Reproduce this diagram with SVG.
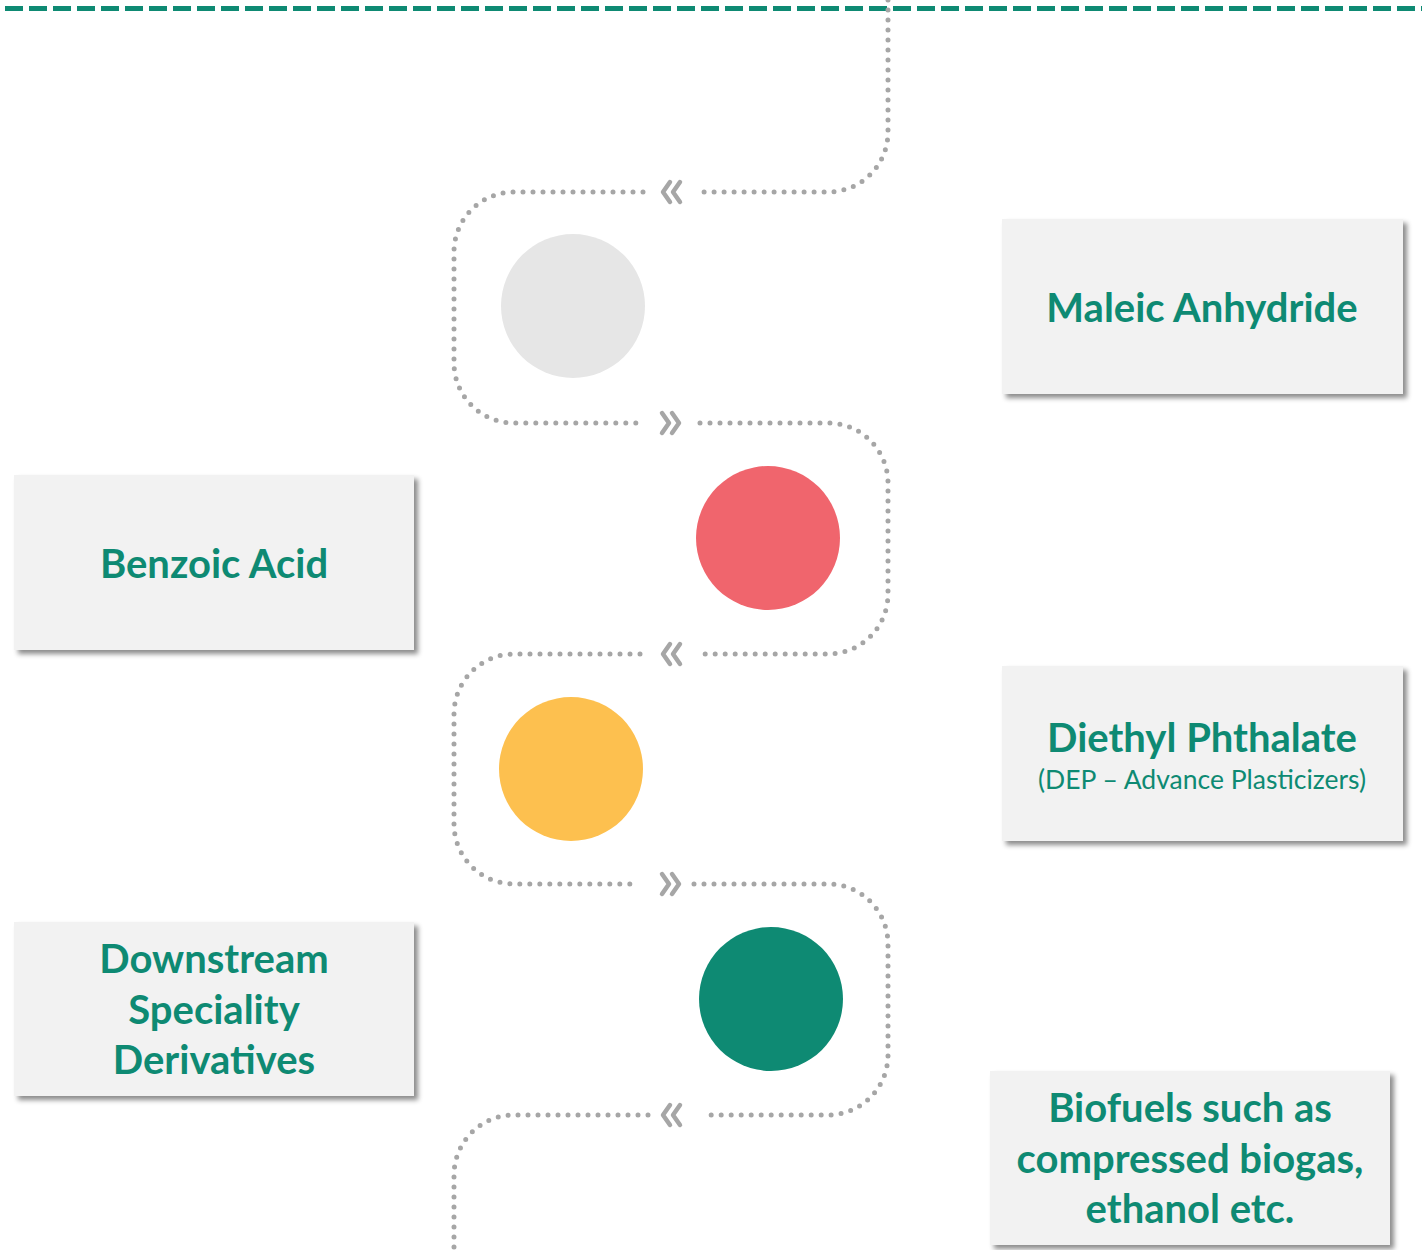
<svg xmlns="http://www.w3.org/2000/svg" width="1422" height="1250" viewBox="0 0 1422 1250">
<style>
.box{fill:#f2f2f2;filter:url(#sh)}
.t{font-family:Lato,"Open Sans","Liberation Sans",sans-serif;font-weight:700;fill:#0e8a73;text-anchor:middle;font-size:40px}
.s{font-family:Lato,"Open Sans","Liberation Sans",sans-serif;font-weight:400;fill:#0e8a73;text-anchor:middle;font-size:26.5px}
.dots{fill:none;stroke:#a6a6a6;stroke-width:5;stroke-linecap:round;stroke-dasharray:0 10}
.chev{fill:none;stroke:#a6a6a6;stroke-width:4.5;stroke-linecap:round;stroke-linejoin:round}
</style>
<defs>
<filter id="sh" x="-10%" y="-10%" width="130%" height="130%">
<feDropShadow dx="4" dy="4" stdDeviation="2.5" flood-color="#000" flood-opacity="0.45"/>
</filter>
</defs>
<rect width="1422" height="1250" fill="#fff"/>
<line x1="5" y1="8.5" x2="1422" y2="8.5" stroke="#0e8a73" stroke-width="5" stroke-dasharray="18 6"/>
<g id="connectors">
<path class="dots" d="M888,0 V132 A60,60 0 0 1 828,192 H700"/>
<path class="dots" d="M643,192 H514 A60,60 0 0 0 454,252 V363 A60,60 0 0 0 514,423 H643"/>
<path class="dots" d="M700,423 H828 A60,60 0 0 1 888,483 V594 A60,60 0 0 1 828,654 H697"/>
<path class="dots" d="M640,654 H514 A60,60 0 0 0 454,714 V824 A60,60 0 0 0 514,884 H637"/>
<path class="dots" d="M694,884 H828 A60,60 0 0 1 888,944 V1055 A60,60 0 0 1 828,1115 H705"/>
<path class="dots" d="M648,1115 H514 A60,60 0 0 0 454,1175 V1250"/>
<path class="chev" d="M670,182 L663,192 L670,202 M680,182 L673,192 L680,202"/>
<path class="chev" d="M662,413 L669,423 L662,433 M672,413 L679,423 L672,433"/>
<path class="chev" d="M670,644 L663,654 L670,664 M680,644 L673,654 L680,664"/>
<path class="chev" d="M662,874 L669,884 L662,894 M672,874 L679,884 L672,894"/>
<path class="chev" d="M670,1105 L663,1115 L670,1125 M680,1105 L673,1115 L680,1125"/>
</g>
<g id="circle1"><circle cx="573" cy="306" r="72" fill="#e6e6e6"/></g>
<g id="circle2"><circle cx="768" cy="538" r="72" fill="#f0656d"/></g>
<g id="circle3"><circle cx="571" cy="769" r="72" fill="#fdc04f"/></g>
<g id="circle4"><circle cx="771" cy="999" r="72" fill="#0e8a73"/></g>
<g id="maleic">
<rect class="box" x="1002" y="219" width="401" height="175"/>
<text class="t" x="1202" y="322">Maleic Anhydride</text>
</g>
<g id="benzoic">
<rect class="box" x="14" y="475" width="400" height="175"/>
<text class="t" x="214" y="578">Benzoic Acid</text>
</g>
<g id="diethyl">
<rect class="box" x="1002" y="666" width="401" height="175"/>
<text class="t" x="1202" y="752">Diethyl Phthalate</text>
<text class="s" x="1202" y="789">(DEP – Advance Plasticizers)</text>
</g>
<g id="downstream">
<rect class="box" x="14" y="922" width="400" height="174"/>
<text class="t" x="214" y="973">Downstream</text>
<text class="t" x="214" y="1024">Speciality</text>
<text class="t" x="214" y="1074">Derivatives</text>
</g>
<g id="biofuels">
<rect class="box" x="990" y="1071" width="400" height="174"/>
<text class="t" x="1190" y="1122">Biofuels such as</text>
<text class="t" x="1190" y="1173">compressed biogas,</text>
<text class="t" x="1190" y="1223">ethanol etc.</text>
</g>
</svg>
